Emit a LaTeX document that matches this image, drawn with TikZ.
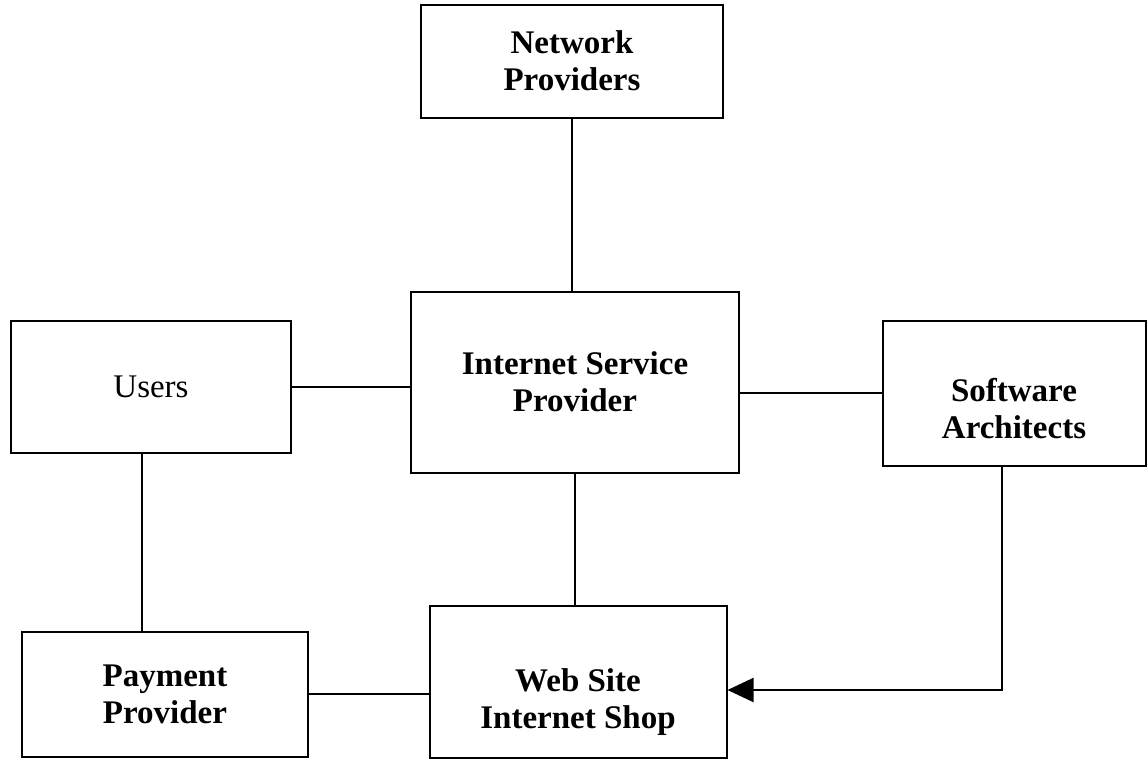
\documentclass[tikz,border=0pt]{standalone}
\usepackage{fontspec}
\setmainfont{Liberation Serif}
\usetikzlibrary{arrows.meta}
\begin{document}
\begin{tikzpicture}[x=1pt, y=-1pt,
                    line width=2pt,
                    font=\fontsize{33}{37}\selectfont,
                    ]
    \tikzstyle{party}=[draw, rectangle, align=center, inner sep=0pt, font=\fontsize{33}{37}\selectfont\bfseries]
    \tikzstyle{partylight}=[party, font=\fontsize{33}{37}\selectfont]
    \tikzstyle{link}=[draw, line width=2pt]

    \useasboundingbox (0,0) rectangle (1148,761);

    \node[party, minimum width=302pt, minimum height=113pt] (net) at (572,61) {Network\\Providers};
    \node[party, minimum width=328pt, minimum height=181pt] (isp) at (575,382) {Internet Service\\Provider};
    \node[partylight, minimum width=280pt, minimum height=132pt] (users) at (151,387) {Users};
    \node[party, minimum width=263pt, minimum height=145pt] (arch) at (1014,393) {\rule{0pt}{54pt}Software\\Architects};
    \node[party, minimum width=286pt, minimum height=125pt] (pay) at (165,694) {Payment\\Provider};
    \node[party, minimum width=297pt, minimum height=152pt] (shop) at (578,682) {\rule{0pt}{62pt}Web Site\\Internet Shop};

    \path[link] (net.south) -- (net.south |- isp.north);
    \path[link] (users.east) -- (users.east -| isp.west);
    \path[link] (arch.west) -- (arch.west -| isp.east);
    \path[link] (isp.south) -- (isp.south |- shop.north);
    \path[link] ([xshift=-9pt]users.south) -- ([xshift=-9pt]users.south |- pay.north);
    \path[link] (pay.east) -- (pay.east -| shop.west);
    \path[link, -{Triangle[length=26pt, width=24pt]}] ([xshift=-12pt]arch.south) |- ([yshift=-8pt]shop.east);
\end{tikzpicture}
\end{document}
